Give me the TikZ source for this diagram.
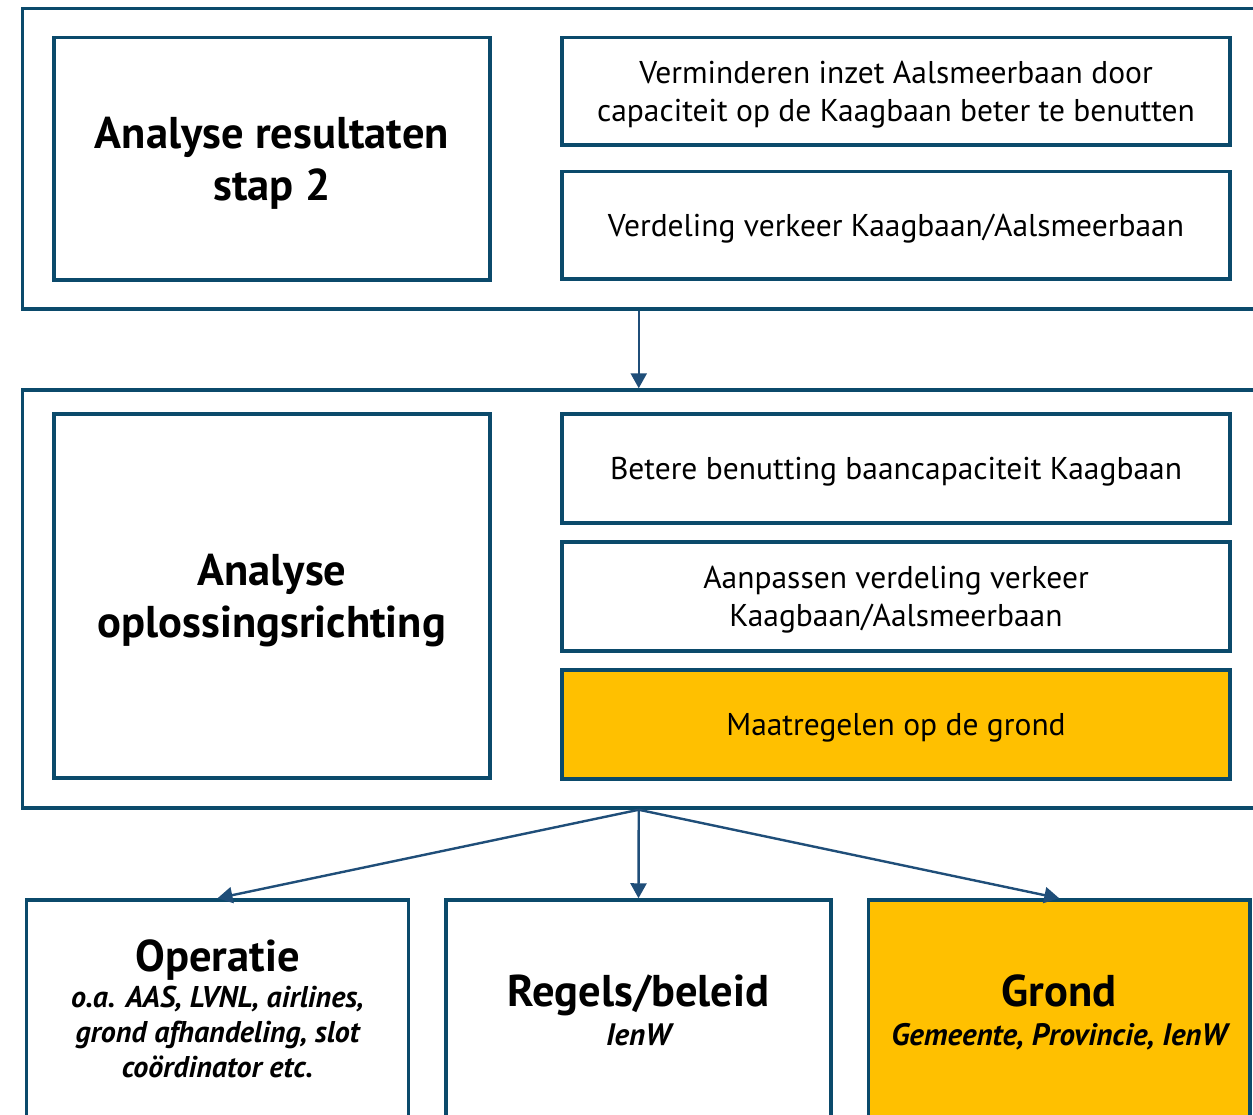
\documentclass[tikz,border=0pt]{standalone}
\usepackage{fontspec}
\setmainfont{PT Sans}
\usetikzlibrary{arrows.meta}
\definecolor{frame}{HTML}{0B4A6B}
\definecolor{arrowc}{HTML}{1F4E79}
\definecolor{gold}{HTML}{FFC000}
\begin{document}
\begin{tikzpicture}[x=1pt,y=-1pt,
  box/.style={draw=frame, line width=3.5pt, inner sep=0pt, fill=white},
  goldbox/.style={box, fill=gold},
  txt/.style={align=center, text=black, inner sep=0pt},
  body/.style={txt, font=\fontsize{31.5}{38}\selectfont},
  head/.style={txt, font=\fontsize{44.5}{52}\selectfont\bfseries},
  subA/.style={txt, font=\fontsize{30}{35}\selectfont\bfseries\itshape},
  subB/.style={txt, font=\fontsize{31}{36}\selectfont\bfseries\itshape},
  conn/.style={draw=arrowc, line width=2.4pt, -{Triangle[length=15pt,width=16pt]}}
]
\fill[white] (0,0) rectangle (1253,1114);
\path[use as bounding box] (0,0) rectangle (1253,1114);
\clip (0,0) rectangle (1253,1114);
% top group
\node[box, minimum width=1232.5pt, minimum height=300.5pt] (outerA) at (638.75,158.75) {};
\node[box, minimum width=436pt, minimum height=242.5pt] (resA) at (272,158.75) {};
\node[head] (resAt) at ([yshift=-5pt]resA.center) {Analyse resultaten\\stap 2};
\node[box, minimum width=668pt, minimum height=107.5pt] (r1) at (896,91.25) {};
\node[body] (r1t) at ([yshift=-3pt]r1.center) {Verminderen inzet Aalsmeerbaan door\\capaciteit op de Kaagbaan beter te benutten};
\node[box, minimum width=668pt, minimum height=107.5pt] (r2) at (896,225.25) {};
\node[body] (r2t) at ([yshift=-3pt]r2.center) {Verdeling verkeer Kaagbaan/Aalsmeerbaan};
% middle group
\node[box, minimum width=1232.5pt, minimum height=418pt] (outerB) at (638.75,599) {};
\node[box, minimum width=436pt, minimum height=364pt] (resB) at (272,596) {};
\node[head] (resBt) at ([yshift=-5pt]resB.center) {Analyse\\oplossingsrichting};
\node[box, minimum width=668pt, minimum height=109pt] (s1) at (896,468.5) {};
\node[body] (s1t) at ([yshift=-3pt]s1.center) {Betere benutting baancapaciteit Kaagbaan};
\node[box, minimum width=668pt, minimum height=109pt] (s2) at (896,596.5) {};
\node[body] (s2t) at ([yshift=-3pt]s2.center) {Aanpassen verdeling verkeer\\Kaagbaan/Aalsmeerbaan};
\node[goldbox, minimum width=668pt, minimum height=109pt] (s3) at (896,724.5) {};
\node[body] (s3t) at ([yshift=-3pt]s3.center) {Maatregelen op de grond};
% bottom boxes
\node[box, minimum width=382pt, minimum height=224pt] (op) at (217.5,1012) {};
\node[box, minimum width=385pt, minimum height=224pt] (rb) at (638.5,1012) {};
\node[goldbox, minimum width=381.5pt, minimum height=224pt] (gr) at (1059.25,1012) {};
\node[head, anchor=base] (opT) at (217.5,971) {Operatie};
\node[subA, anchor=north] (opS) at (217.5,986) {o.a. AAS, LVNL, airlines,\\grond afhandeling, slot\\coördinator etc.};
\node[head, anchor=base] (rbT) at (638.5,1006) {Regels/beleid};
\node[subB, anchor=base] (rbS) at (638.5,1045) {IenW};
\node[head, anchor=base] (grT) at (1059.25,1006) {Grond};
\node[subB, anchor=base] (grS) at (1059.25,1045) {Gemeente, Provincie, IenW};
% connectors
\draw[conn] (outerA.south) -- (outerB.north);
\draw[conn] (outerB.south) -- (op.north);
\draw[conn] (outerB.south) -- (rb.north);
\draw[conn] (outerB.south) -- (gr.north);
\end{tikzpicture}
\end{document}
